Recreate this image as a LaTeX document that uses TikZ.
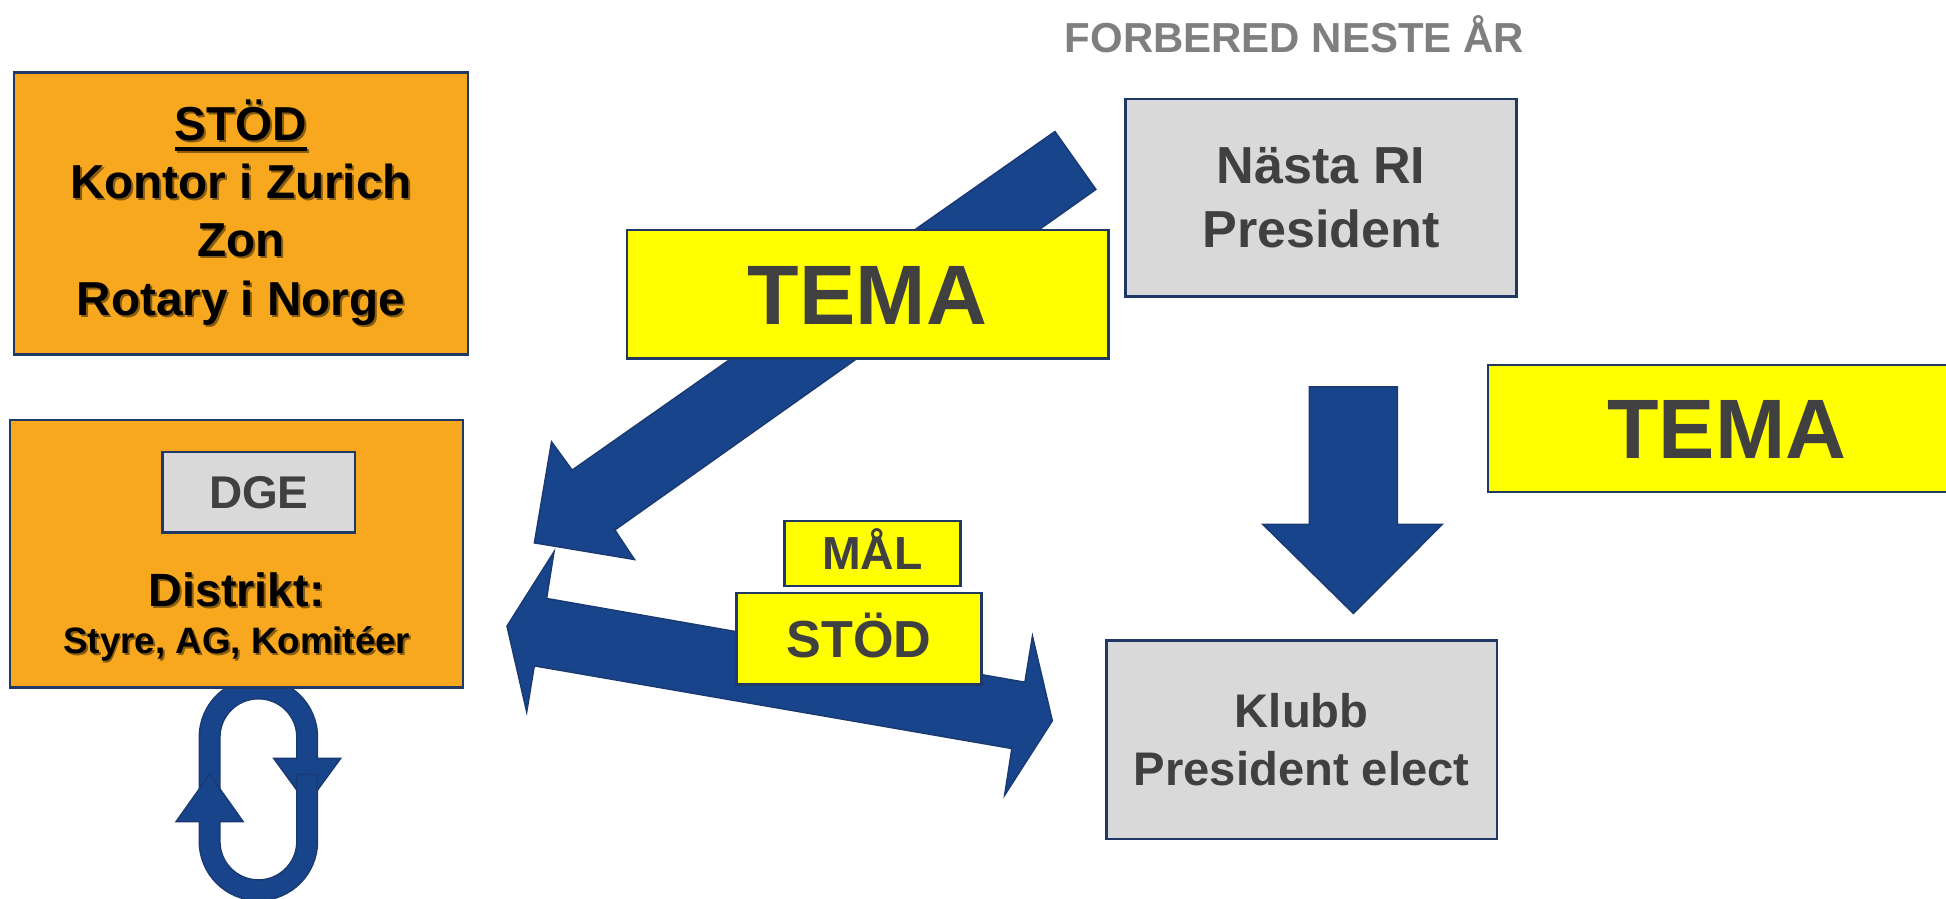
\documentclass[tikz,border=0pt]{standalone}
\usepackage{fontspec}
\setmainfont{Liberation Sans}
\definecolor{orangefill}{HTML}{F7A81E}
\definecolor{boxborder}{HTML}{203864}
\definecolor{arrowblue}{HTML}{18448C}
\definecolor{arrowborder}{HTML}{1A3A72}
\definecolor{boxgray}{HTML}{D9D9D9}
\definecolor{textgray}{HTML}{404040}
\definecolor{titlegray}{HTML}{7F7F7F}
\definecolor{temayellow}{HTML}{FFFF00}
\colorlet{shadowcol}{orangefill!55!black}
\newcommand{\shadowtext}[1]{\leavevmode\rlap{\kern0.8pt\raisebox{-0.8pt}{\textcolor{shadowcol}{#1}}}#1}
\newcommand{\ulined}[1]{\setbox0\hbox{#1}\rlap{\rule[-4.25pt]{\wd0}{1.5pt}}\box0}
\begin{document}
\begin{tikzpicture}[x=0.5pt, y=-0.5pt, line join=miter,
    box/.style={draw=boxborder, line width=1pt, rectangle, inner sep=0pt, align=center},
    orangebox/.style={box, fill=orangefill, text=black},
    graybox/.style={box, fill=boxgray, text=textgray},
    yellowbox/.style={box, fill=temayellow, text=textgray},
    blockarrow/.style={fill=arrowblue, draw=arrowborder, line width=0.6pt}]
    \clip (0,0) rectangle (1568,724);
    \fill[white] (0,0) rectangle (1568,724);
    \draw[blockarrow] (160.6,655) -- (160.6,594) arc[start angle=180, end angle=360, radius=47.6] -- (255.8,611) -- (274.5,611) -- (247.5,648) -- (220.5,611) -- (239.2,611) -- (239.2,594) arc[start angle=360, end angle=180, radius=31] -- (177.2,655) -- cycle;
    \draw[blockarrow] (239.2,624) -- (239.2,678) arc[start angle=0, end angle=180, radius=31] -- (177.2,662) -- (195.9,662) -- (168.9,624) -- (141.9,662) -- (160.6,662) -- (160.6,678) arc[start angle=180, end angle=0, radius=47.6] -- (255.8,624) -- cycle;
    \draw[blockarrow] (850,106) -- (461,378.8) -- (444.4,356) -- (430.6,437.4) -- (511.2,450.8) -- (495.4,427) -- (883,152.6) -- cycle;
    \draw[blockarrow] (408.5,504.5) -- (446.4,444.6) -- (440.4,482.2) -- (825.8,549.7) -- (831.9,512.6) -- (847.9,580.8) -- (809.5,640.7) -- (815.3,603.1) -- (430.5,536.5) -- (424.4,573.6) -- cycle;
    \draw[blockarrow] (1055,311.7) -- (1126,311.7) -- (1126,422.6) -- (1162,422.6) -- (1090.5,494.3) -- (1017.6,422.6) -- (1055,422.6) -- cycle;
    \node[anchor=base, inner sep=0pt, text=titlegray, font=\bfseries\fontsize{16.9}{20}\selectfont] (title) at (1043,42.2) {FORBERED NESTE ÅR};
    \node[orangebox, minimum width=182.85pt, minimum height=113.5pt, font=\bfseries\fontsize{19.2}{23.5}\selectfont] (stod) at (194.2,172) {\shadowtext{\ulined{STÖD}}\\\shadowtext{Kontor i Zurich}\\\shadowtext{Zon}\\\shadowtext{Rotary i Norge}};
    \node[orangebox, minimum width=182.5pt, minimum height=107.65pt] (distrikt) at (190.5,446.2) {};
    \node[graybox, minimum width=77.5pt, minimum height=32.5pt, font=\bfseries\fontsize{18.5}{22}\selectfont, text height=13.25pt, text depth=0pt] (dge) at (208.5,396.5) {DGE};
    \node[anchor=base, inner sep=0pt, font=\bfseries\fontsize{18.8}{22}\selectfont] (distr) at (190.8,489) {\shadowtext{Distrikt:}};
    \node[anchor=base, inner sep=0pt, font=\bfseries\fontsize{14.8}{18}\selectfont] (styre) at (190.8,526.6) {\shadowtext{Styre, AG, Komitéer}};
    \node[graybox, minimum width=157.4pt, minimum height=79.6pt, font=\bfseries\fontsize{21}{25.5}\selectfont] (nasta) at (1064.4,159.4) {Nästa RI\\President};
    \node[graybox, minimum width=157.25pt, minimum height=80pt, font=\bfseries\fontsize{19}{23.3}\selectfont] (klubb) at (1048.8,595.9) {Klubb\\President elect};
    \node[yellowbox, minimum width=194pt, minimum height=51.7pt, font=\bfseries\fontsize{34}{40}\selectfont, text height=24.3pt, text depth=0pt] (temaleft) at (699,237.1) {TEMA};
    \node[yellowbox, minimum width=192.3pt, minimum height=51pt, font=\bfseries\fontsize{34}{40}\selectfont, text height=24.3pt, text depth=0pt] (temaright) at (1391.3,345.3) {TEMA};
    \node[yellowbox, minimum width=71pt, minimum height=26.2pt, font=\bfseries\fontsize{18.7}{22}\selectfont, text height=13.4pt, text depth=0pt] (mal) at (703,445.8) {MÅL};
    \node[yellowbox, minimum width=98.8pt, minimum height=36.85pt, font=\bfseries\fontsize{21}{25}\selectfont, text height=15pt, text depth=0pt] (stodgul) at (692.1,514.5) {STÖD};
\end{tikzpicture}
\end{document}
